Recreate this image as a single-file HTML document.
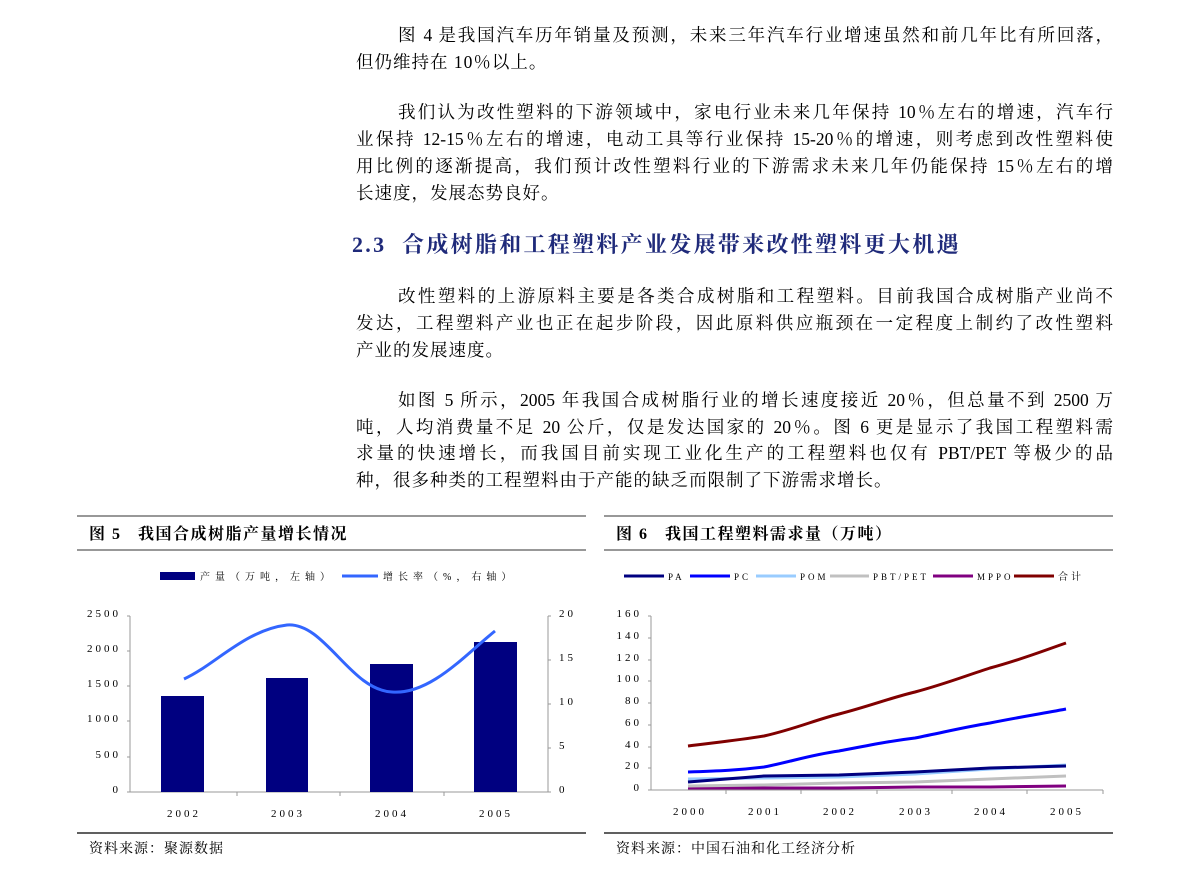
<!DOCTYPE html>
<html><head><meta charset="utf-8"><style>
body{margin:0;width:1190px;height:877px;background:#fff;position:relative;overflow:hidden;font-family:"Liberation Serif","Noto Serif CJK SC",serif;color:#000}
.l{position:absolute;left:356px;width:757px;font-size:17.5px;line-height:22px;white-space:nowrap}
.j{text-align:justify;text-align-last:justify}
.h{position:absolute;left:352px;top:228px;font-size:22px;letter-spacing:2.3px;font-weight:bold;color:#1f2a7a;font-family:"Liberation Serif","Noto Serif CJK SC",serif}
svg{position:absolute;left:0;top:0}
</style></head><body>
<div class="l j" style="top:24px;padding-left:42px;width:715px">图 4 是我国汽车历年销量及预测，未来三年汽车行业增速虽然和前几年比有所回落，</div>
<div class="l" style="top:51px;letter-spacing:1px">但仍维持在 10％以上。</div>
<div class="l j" style="top:101px;padding-left:42px;width:715px">我们认为改性塑料的下游领域中，家电行业未来几年保持 10％左右的增速，汽车行</div>
<div class="l j" style="top:128px">业保持 12-15％左右的增速，电动工具等行业保持 15-20％的增速，则考虑到改性塑料使</div>
<div class="l j" style="top:155px">用比例的逐渐提高，我们预计改性塑料行业的下游需求未来几年仍能保持 15％左右的增</div>
<div class="l" style="top:182px;letter-spacing:1px">长速度，发展态势良好。</div>
<div class="h">2.3&nbsp; 合成树脂和工程塑料产业发展带来改性塑料更大机遇</div>
<div class="l j" style="top:285px;padding-left:42px;width:715px">改性塑料的上游原料主要是各类合成树脂和工程塑料。目前我国合成树脂产业尚不</div>
<div class="l j" style="top:312px">发达，工程塑料产业也正在起步阶段，因此原料供应瓶颈在一定程度上制约了改性塑料</div>
<div class="l" style="top:339px;letter-spacing:1px">产业的发展速度。</div>
<div class="l j" style="top:389px;padding-left:42px;width:715px">如图 5 所示，2005 年我国合成树脂行业的增长速度接近 20％，但总量不到 2500 万</div>
<div class="l j" style="top:416px">吨，人均消费量不足 20 公斤，仅是发达国家的 20％。图 6 更是显示了我国工程塑料需</div>
<div class="l j" style="top:442px">求量的快速增长，而我国目前实现工业化生产的工程塑料也仅有 PBT/PET 等极少的品</div>
<div class="l" style="top:469px;letter-spacing:1px">种，很多种类的工程塑料由于产能的缺乏而限制了下游需求增长。</div>

<svg width="1190" height="877" font-family="Liberation Serif, Noto Serif CJK SC, serif">
<g fill="none">
<line x1="77" y1="516" x2="586" y2="516" stroke="#777" stroke-width="1.5"/>
<line x1="77" y1="550" x2="586" y2="550" stroke="#777" stroke-width="1.5"/>
<line x1="77" y1="833" x2="586" y2="833" stroke="#000" stroke-width="1.2"/>
<line x1="604" y1="516" x2="1113" y2="516" stroke="#777" stroke-width="1.5"/>
<line x1="604" y1="550" x2="1113" y2="550" stroke="#777" stroke-width="1.5"/>
<line x1="604" y1="833" x2="1113" y2="833" stroke="#000" stroke-width="1.2"/>
</g>
<text x="89" y="539" font-size="16" font-weight="bold" letter-spacing="1.5">图 5 &#160; 我国合成树脂产量增长情况</text>
<text x="616" y="539" font-size="16" font-weight="bold" letter-spacing="1.5">图 6 &#160; 我国工程塑料需求量（万吨）</text>
<text x="89" y="853" font-size="14" letter-spacing="1">资料来源：聚源数据</text>
<text x="616" y="853" font-size="14" letter-spacing="1">资料来源：中国石油和化工经济分析</text>

<rect x="160" y="572" width="35" height="8" fill="#000080"/>
<text x="200" y="580" font-size="10" letter-spacing="5">产量（万吨，左轴）</text>
<line x1="342" y1="576" x2="378" y2="576" stroke="#3366ff" stroke-width="3"/>
<text x="383" y="580" font-size="10" letter-spacing="5">增长率（%，右轴）</text>
<g stroke="#999" stroke-width="1">
<line x1="130" y1="616" x2="130" y2="792"/><line x1="548" y1="616" x2="548" y2="792"/>
<line x1="127" y1="792" x2="551" y2="792"/>
<line x1="127" y1="616" x2="130" y2="616"/><line x1="127" y1="651" x2="130" y2="651"/><line x1="127" y1="686" x2="130" y2="686"/><line x1="127" y1="721" x2="130" y2="721"/><line x1="127" y1="757" x2="130" y2="757"/>
<line x1="548" y1="616" x2="551" y2="616"/><line x1="548" y1="660" x2="551" y2="660"/><line x1="548" y1="704" x2="551" y2="704"/><line x1="548" y1="748" x2="551" y2="748"/>
<line x1="237" y1="792" x2="237" y2="796"/><line x1="340" y1="792" x2="340" y2="796"/><line x1="444" y1="792" x2="444" y2="796"/>
</g>
<g font-size="11" text-anchor="end" letter-spacing="3">
<text x="121" y="617">2500</text><text x="121" y="652">2000</text><text x="121" y="687">1500</text><text x="121" y="722">1000</text><text x="121" y="758">500</text><text x="121" y="793">0</text>
</g>
<g font-size="11" letter-spacing="3">
<text x="559" y="617">20</text><text x="559" y="661">15</text><text x="559" y="705">10</text><text x="559" y="749">5</text><text x="559" y="793">0</text>
</g>
<g font-size="11" text-anchor="middle" letter-spacing="3">
<text x="184" y="817">2002</text><text x="288" y="817">2003</text><text x="392" y="817">2004</text><text x="496" y="817">2005</text>
</g>
<g fill="#000080">
<rect x="161" y="696" width="43" height="96"/><rect x="266" y="678" width="42" height="114"/><rect x="370" y="664" width="43" height="128"/><rect x="474" y="642" width="43" height="150"/>
</g>
<path d="M184,679 C215,665 245,630 287,625 C325,622 350,690 392,692 C430,695 465,655 495,631" fill="none" stroke="#3366ff" stroke-width="3"/>

<g stroke-width="3">
<line x1="624" y1="576" x2="664" y2="576" stroke="#000080"/>
<line x1="690" y1="576" x2="730" y2="576" stroke="#0000ff"/>
<line x1="756" y1="576" x2="796" y2="576" stroke="#99ccff"/>
<line x1="830" y1="576" x2="869" y2="576" stroke="#c0c0c0"/>
<line x1="933" y1="576" x2="973" y2="576" stroke="#800080"/>
<line x1="1014" y1="576" x2="1054" y2="576" stroke="#800000"/>
</g>
<g font-size="9" letter-spacing="3">
<text x="668" y="580">PA</text><text x="734" y="580">PC</text><text x="800" y="580">POM</text><text x="873" y="580">PBT/PET</text><text x="977" y="580">MPPO</text><text x="1058" y="580" font-size="10">合计</text>
</g>
<g stroke="#999">
<line x1="651" y1="616" x2="651" y2="790"/><line x1="648" y1="790" x2="1103" y2="790"/>
<line x1="648" y1="616" x2="651" y2="616"/><line x1="648" y1="638" x2="651" y2="638"/><line x1="648" y1="660" x2="651" y2="660"/><line x1="648" y1="681" x2="651" y2="681"/><line x1="648" y1="703" x2="651" y2="703"/><line x1="648" y1="725" x2="651" y2="725"/><line x1="648" y1="747" x2="651" y2="747"/><line x1="648" y1="768" x2="651" y2="768"/>
<line x1="726" y1="790" x2="726" y2="794"/><line x1="801" y1="790" x2="801" y2="794"/><line x1="877" y1="790" x2="877" y2="794"/><line x1="952" y1="790" x2="952" y2="794"/><line x1="1027" y1="790" x2="1027" y2="794"/><line x1="1103" y1="790" x2="1103" y2="794"/>
</g>
<g font-size="11" text-anchor="end" letter-spacing="3">
<text x="642" y="617">160</text><text x="642" y="639">140</text><text x="642" y="661">120</text><text x="642" y="682">100</text><text x="642" y="704">80</text><text x="642" y="726">60</text><text x="642" y="748">40</text><text x="642" y="769">20</text><text x="642" y="791">0</text>
</g>
<g font-size="11" text-anchor="middle" letter-spacing="3">
<text x="690" y="815">2000</text><text x="765" y="815">2001</text><text x="840" y="815">2002</text><text x="916" y="815">2003</text><text x="991" y="815">2004</text><text x="1067" y="815">2005</text>
</g>
<g fill="none" stroke-width="3" stroke-linejoin="round">
<polyline stroke="#800080" points="688,788 764,788 839,788 915,787 990,787 1066,786"/>
<polyline stroke="#c0c0c0" points="688,786 764,785 839,783 915,782 990,779 1066,776"/>
<polyline stroke="#99ccff" points="688,779 764,778 839,777 915,774 990,769 1066,765"/>
<polyline stroke="#000080" points="688,782 764,776 839,775 915,772 990,768 1066,766"/>
<path stroke="#0000ff" d="M688,772 C720,771 740,770 764,767 C790,762 810,755 839,751 C870,745 890,741 915,738 C945,732 965,727 990,723 C1020,717 1040,714 1066,709"/>
<path stroke="#800000" d="M688,746 C720,742 740,740 764,736 C795,729 815,720 839,714 C870,706 890,698 915,692 C945,684 965,676 990,668 C1020,660 1040,652 1066,643"/>
</g>
</svg>
</body></html>
